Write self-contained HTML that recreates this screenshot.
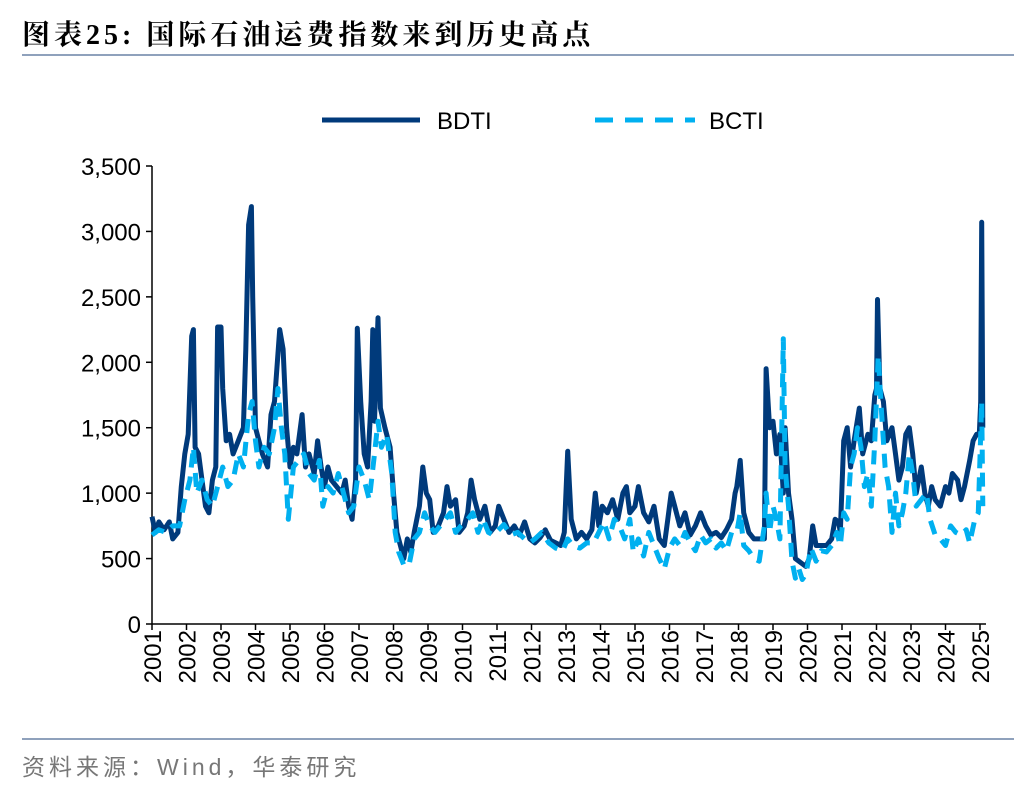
<!DOCTYPE html>
<html><head><meta charset="utf-8"><style>
body{margin:0;width:1036px;height:792px;background:#fff;overflow:hidden;font-family:"Liberation Sans","Noto Sans CJK SC",sans-serif;}
svg{position:absolute;left:0;top:0}
</style></head><body>
<svg width="1036" height="792">
<text x="22" y="44" font-size="28" font-weight="bold" fill="#000" letter-spacing="4" font-family="Liberation Serif, Noto Serif CJK SC, serif">图表25:  国际石油运费指数来到历史高点</text>
<rect x="22" y="54" width="992" height="2" fill="#8fa1bc"/>
<g>
<line x1="322" y1="120" x2="420" y2="120" stroke="#003a7b" stroke-width="5"/>
<text x="437" y="129" font-size="24">BDTI</text>
<line x1="595" y1="120" x2="695" y2="120" stroke="#00b0f0" stroke-width="5" stroke-dasharray="18,12"/>
<text x="709" y="129" font-size="24">BCTI</text>
</g>
<g id="axes"></g>
<g id="series"></g>
<rect x="22" y="738" width="992" height="2" fill="#8fa1bc"/>
<text x="22" y="775" font-size="23" fill="#777" letter-spacing="4" font-family="Liberation Sans, Noto Sans CJK SC, sans-serif">资料来源：Wind，华泰研究</text>
</svg>
<script>
const yTicks=[0,500,1000,1500,2000,2500,3000,3500];
const yearLabels=[2001,2002,2003,2004,2005,2006,2007,2008,2009,2010,2011,2012,2013,2014,2015,2016,2017,2018,2019,2020,2021,2022,2023,2024,2025];
const bdtiDates=[2001.0,2001.1,2001.2,2001.35,2001.5,2001.6,2001.75,2001.85,2001.95,2002.05,2002.15,2002.2,2002.25,2002.35,2002.45,2002.55,2002.65,2002.75,2002.85,2002.9,2003.0,2003.05,2003.15,2003.25,2003.35,2003.5,2003.65,2003.72,2003.8,2003.88,2003.92,2004.0,2004.1,2004.2,2004.35,2004.45,2004.55,2004.7,2004.8,2004.9,2005.0,2005.1,2005.2,2005.35,2005.45,2005.55,2005.7,2005.8,2005.9,2006.0,2006.1,2006.2,2006.35,2006.5,2006.6,2006.7,2006.8,2006.9,2006.95,2007.05,2007.15,2007.25,2007.35,2007.4,2007.45,2007.55,2007.62,2007.75,2007.9,2008.0,2008.1,2008.2,2008.3,2008.4,2008.5,2008.6,2008.75,2008.85,2008.95,2009.05,2009.15,2009.3,2009.45,2009.55,2009.65,2009.8,2009.9,2010.05,2010.15,2010.25,2010.35,2010.5,2010.65,2010.8,2010.95,2011.05,2011.2,2011.35,2011.5,2011.65,2011.8,2011.95,2012.1,2012.25,2012.4,2012.55,2012.7,2012.85,2012.95,2013.05,2013.15,2013.3,2013.45,2013.6,2013.75,2013.85,2013.95,2014.05,2014.2,2014.35,2014.5,2014.65,2014.75,2014.85,2015.0,2015.1,2015.25,2015.4,2015.55,2015.7,2015.85,2015.95,2016.05,2016.15,2016.3,2016.45,2016.6,2016.75,2016.9,2017.05,2017.2,2017.35,2017.5,2017.65,2017.8,2017.9,2017.95,2018.05,2018.15,2018.3,2018.45,2018.6,2018.75,2018.8,2018.9,2019.0,2019.1,2019.2,2019.3,2019.35,2019.45,2019.55,2019.65,2019.75,2019.85,2019.95,2020.05,2020.15,2020.25,2020.4,2020.55,2020.7,2020.8,2020.9,2020.95,2021.05,2021.15,2021.25,2021.35,2021.5,2021.6,2021.75,2021.85,2021.95,2022.0,2022.03,2022.1,2022.2,2022.3,2022.45,2022.55,2022.65,2022.75,2022.85,2022.95,2023.05,2023.15,2023.3,2023.4,2023.5,2023.6,2023.7,2023.85,2024.0,2024.1,2024.2,2024.35,2024.45,2024.55,2024.7,2024.8,2024.9,2024.98,2025.02,2025.05,2025.08];
const bdtiValues=[820,700,780,720,780,650,700,1050,1300,1450,2200,2250,1350,1300,1100,900,850,1100,1200,2270,2270,1800,1400,1450,1300,1400,1500,2100,3050,3190,2500,1500,1400,1300,1200,1600,1700,2250,2100,1500,1200,1350,1300,1600,1200,1300,1150,1400,1200,1050,1200,1100,1050,1000,1100,900,800,1100,2260,1700,1300,1200,1700,2250,1550,2340,1650,1500,1350,1000,700,600,500,650,550,700,900,1200,1000,950,700,750,850,1050,900,950,700,750,850,1100,950,800,900,700,750,900,800,700,750,680,780,650,620,660,720,640,620,600,700,1320,800,650,700,650,720,1000,750,900,850,950,800,1000,1050,850,900,1050,850,780,900,650,600,800,1000,900,750,850,680,750,850,750,680,700,660,720,800,1000,1050,1250,850,700,650,650,650,1950,1500,1550,1300,1450,1000,1500,1000,800,500,480,460,440,500,750,600,600,600,650,800,780,700,1400,1500,1200,1400,1650,1300,1450,1400,1750,1800,2480,1800,1700,1400,1500,1300,1100,1200,1450,1500,1300,1000,1200,1000,900,1050,950,900,1050,1000,1150,1100,950,1050,1250,1400,1450,1450,1700,3070,1500];
const bctiDates=[2001.0,2001.2,2001.4,2001.6,2001.8,2001.95,2002.1,2002.2,2002.3,2002.45,2002.6,2002.75,2002.9,2003.05,2003.2,2003.35,2003.5,2003.65,2003.8,2003.9,2004.0,2004.1,2004.25,2004.4,2004.55,2004.65,2004.75,2004.85,2004.95,2005.1,2005.25,2005.4,2005.55,2005.7,2005.85,2005.95,2006.1,2006.25,2006.4,2006.55,2006.7,2006.85,2007.0,2007.15,2007.3,2007.45,2007.55,2007.65,2007.8,2007.95,2008.05,2008.15,2008.3,2008.45,2008.6,2008.75,2008.9,2009.05,2009.2,2009.35,2009.5,2009.65,2009.8,2009.95,2010.15,2010.3,2010.45,2010.6,2010.75,2010.9,2011.05,2011.2,2011.4,2011.6,2011.8,2011.95,2012.1,2012.3,2012.5,2012.7,2012.9,2013.05,2013.2,2013.4,2013.6,2013.8,2013.95,2014.1,2014.25,2014.4,2014.55,2014.7,2014.85,2014.95,2015.1,2015.25,2015.4,2015.55,2015.7,2015.85,2016.0,2016.15,2016.3,2016.45,2016.6,2016.75,2016.9,2017.05,2017.2,2017.35,2017.5,2017.65,2017.8,2017.95,2018.05,2018.15,2018.3,2018.45,2018.6,2018.75,2018.8,2018.9,2019.0,2019.1,2019.2,2019.3,2019.35,2019.45,2019.55,2019.65,2019.75,2019.85,2019.95,2020.1,2020.25,2020.4,2020.55,2020.7,2020.85,2020.95,2021.05,2021.15,2021.25,2021.35,2021.45,2021.55,2021.65,2021.75,2021.85,2021.95,2022.05,2022.15,2022.25,2022.35,2022.45,2022.55,2022.65,2022.75,2022.85,2022.95,2023.05,2023.15,2023.3,2023.45,2023.55,2023.7,2023.85,2024.0,2024.15,2024.3,2024.45,2024.6,2024.7,2024.85,2024.95,2025.02,2025.05,2025.08];
const bctiValues=[680,720,700,750,750,950,1100,1350,1000,1100,950,900,1050,1200,1050,1100,1300,1200,1600,1700,1400,1200,1350,1300,1500,1800,1500,1300,800,1200,1250,1300,1150,1100,1250,900,1050,1000,1150,1000,850,900,1200,1100,950,1300,1550,1350,1450,1150,700,550,450,450,650,700,850,750,700,750,800,850,700,750,800,850,700,800,700,680,720,760,680,700,650,620,650,700,620,580,560,650,600,580,620,620,700,780,650,800,750,650,800,550,650,520,700,600,500,420,580,650,600,700,620,560,680,620,650,580,620,560,700,700,850,600,560,500,480,750,1000,700,900,800,650,2180,1200,900,480,350,420,340,380,580,480,560,550,600,700,600,850,800,1200,1300,1500,1350,1050,1150,900,1400,2050,1600,1200,1050,700,1000,750,850,1000,1300,1150,900,950,1000,800,680,650,600,750,700,680,720,620,800,850,1450,1700,900];

const NS='http://www.w3.org/2000/svg';
const X0=152,X1=980,Y0=624,Y1=166;
const xScale=d=>X0+(d-2001)/(2025-2001)*(X1-X0);
const yScale=v=>Y0-v/3500*(Y0-Y1);
const axes=document.getElementById('axes');
function mk(tag,attrs,parent){const e=document.createElementNS(NS,tag);for(const k in attrs)e.setAttribute(k,attrs[k]);parent.appendChild(e);return e;}
const ya=mk('line',{x1:X0,y1:Y1,x2:X0,y2:Y0,stroke:'#000','stroke-width':1.5},axes);


const xa=mk('line',{x1:X0,y1:Y0,x2:X1+6,y2:Y0,stroke:'#000','stroke-width':1.5},axes);


yTicks.forEach(v=>{
  const y=yScale(v);
  const t=mk('line',{x1:X0-6,y1:y,x2:X0,y2:y,stroke:'#000','stroke-width':1.5},axes);
  
  
  const l=mk('text',{x:X0-11,y:y+9,'font-size':24,'text-anchor':'end'},axes);
  l.textContent=v.toLocaleString('en-US');
  
  
});
yearLabels.forEach(yr=>{
  const x=xScale(yr);
  const t=mk('line',{x1:x,y1:Y0,x2:x,y2:Y0+6,stroke:'#000','stroke-width':1.5},axes);
  
  
  const l=mk('text',{x:0,y:0,'font-size':24,'text-anchor':'end',transform:`translate(${x+9},${Y0+6}) rotate(-90)`},axes);
  l.textContent=yr;
  
  
});
const series=document.getElementById('series');
function pts(ds,vs){return ds.map((d,i)=>xScale(d).toFixed(1)+','+yScale(vs[i]).toFixed(1)).join(' ');}
const p1=mk('polyline',{points:pts(bdtiDates,bdtiValues),fill:'none',stroke:'#003a7b','stroke-width':5,'stroke-linejoin':'round'},series);


const p2=mk('polyline',{points:pts(bctiDates,bctiValues),fill:'none',stroke:'#00b0f0','stroke-width':5,'stroke-dasharray':'14,9','stroke-linejoin':'round'},series);


</script>
</body></html>
